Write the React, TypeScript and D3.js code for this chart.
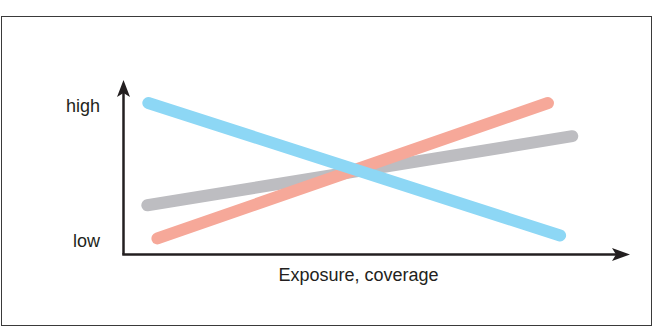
import React from "react";
import * as d3 from "d3";

const W = 653;
const H = 327;

// Conceptual chart: x = exposure/coverage (0–100), y = low..high (0–100)
const seriesNames = ["blue", "red", "gray"];
const xStart = [4.9, 6.7, 4.7];
const xEnd = [86.2, 83.8, 88.6];
const yStart = [86.8, 9.2, 28.2];
const yEnd = [10.9, 86.8, 67.8];
const seriesColors = ["#8dd7f5", "#f6a899", "#bdbdc1"];
const drawOrder = [2, 1, 0];

const yTickLabels = ["low", "high"];
const yTickValues = [7.5, 85];
const xAxisTitle = "Exposure, coverage";

export default function App() {
  const x = d3.scaleLinear().domain([0, 100]).range([123.5, 630]);
  const y = d3.scaleLinear().domain([0, 100]).range([254.5, 80]);
  const line = d3
    .line<[number, number]>()
    .x((d) => x(d[0]))
    .y((d) => y(d[1]));

  const x0 = x(0);
  const y0 = y(0);
  const xTip = x(100);
  const yTip = y(100);

  return (
    <svg
      width={W}
      height={H}
      style={{ position: "absolute", left: 0, top: 0, background: "#fff" }}
      fontFamily="'Liberation Sans', Arial, Helvetica, sans-serif"
    >
      <rect x={0} y={0} width={W} height={H} fill="#fff" />
      <rect x={1.5} y={16.5} width={650} height={309} fill="none" stroke="#3a3a3a" strokeWidth={1} />

      {drawOrder.map((i) => (
        <path
          key={seriesNames[i]}
          d={line([
            [xStart[i], yStart[i]],
            [xEnd[i], yEnd[i]],
          ]) as string}
          stroke={seriesColors[i]}
          strokeWidth={12}
          strokeLinecap="round"
          fill="none"
        />
      ))}

      {/* axes */}
      <path d={`M${x0},${y0} L${x0},${yTip + 12}`} stroke="#231f20" strokeWidth={2.5} fill="none" />
      <path d={`M${x0 - 1.25},${y0} L${xTip - 14},${y0}`} stroke="#231f20" strokeWidth={2.5} fill="none" />
      <path
        d={`M${x0},${yTip} L${x0 + 6.5},${yTip + 17} L${x0},${yTip + 13} L${x0 - 6.5},${yTip + 17} Z`}
        fill="#231f20"
      />
      <path
        d={`M${xTip},${y0} L${xTip - 18},${y0 - 6.5} L${xTip - 14},${y0} L${xTip - 18},${y0 + 6.5} Z`}
        fill="#231f20"
      />

      {yTickLabels.map((t, i) => (
        <text
          key={t}
          x={100}
          y={y(yTickValues[i])}
          textAnchor="end"
          dominantBaseline="central"
          fontSize={18}
          fill="#231f20"
        >
          {t}
        </text>
      ))}

      <text x={358.5} y={275} textAnchor="middle" dominantBaseline="central" fontSize={18} fill="#231f20">
        {xAxisTitle}
      </text>
    </svg>
  );
}
